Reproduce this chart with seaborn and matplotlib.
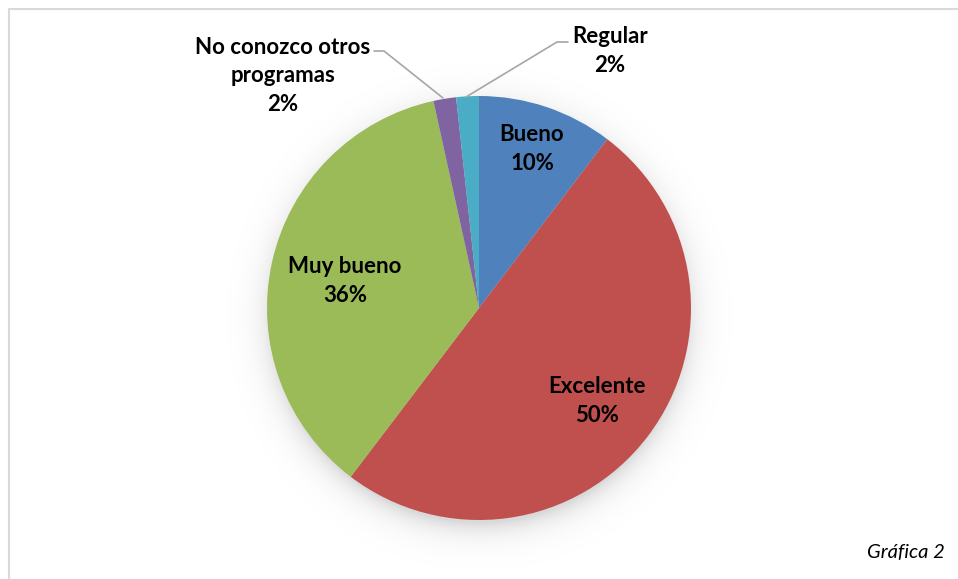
import numpy as np
import matplotlib
matplotlib.use("Agg")
import matplotlib.pyplot as plt
import seaborn as sns

# data (counts, 58 answers)
categories = ["Bueno", "Excelente", "Muy bueno", "No conozco otros\nprogramas", "Regular"]
counts = [6, 29, 21, 1, 1]
colors = ["#4F81BD", "#C0504D", "#9BBB59", "#8064A2", "#4BACC6"]
caption = "Gráfica 2"

sns.set_theme(style="white")
plt.rcParams["font.family"] = ["Lato", "DejaVu Sans"]

W, H = 958, 579
fig = plt.figure(figsize=(W / 100, H / 100), dpi=100)
ax = fig.add_axes([0, 0, 1, 1])

cx, cy, r = 479, H - 308, 212

# frame of the chart area
ax.plot([9, 9, W + 5], [-5, H - 9, H - 9], color="#D9D9D9", lw=1.5, zorder=0)

# soft shadow under the pie, shifted a little downwards
yy, xx = np.mgrid[0:H, 0:W]
d = np.hypot(xx - cx, (H - yy) - (cy - 8))
shadow = 0.15 * np.exp(-np.clip(d - r + 6, 0, None) / 13)
rgba = np.zeros((H, W, 4))
rgba[..., 3] = shadow
ax.imshow(rgba, extent=[0, W, 0, H], origin="upper", zorder=1)

wedges, _ = ax.pie(counts, colors=colors, startangle=90, counterclock=False,
                   radius=r, center=(cx, cy), frame=True,
                   wedgeprops=dict(linewidth=0))
for w in wedges:
    w.set_zorder(2)
ax.set_xlim(0, W)
ax.set_ylim(0, H)
ax.set_aspect("equal")
ax.axis("off")

total = sum(counts)
pct = [f"{round(100 * c / total)}%" for c in counts]

font = dict(fontsize=16, fontweight="bold", color="black", ha="center", va="center",
            linespacing=1.45, zorder=5)

# labels inside the big slices
inside = {0: (532, 149), 1: (597, 401), 2: (345, 281)}
for i, (x, y) in inside.items():
    ax.text(x, H - y, f"{categories[i]}\n{pct[i]}", **font)

# outside labels with leader lines
ax.text(283, H - 76, f"{categories[3]}\n{pct[3]}", **font)
ax.plot([374, 384, 443], [H - 51, H - 51, H - 98], color="#A6A6A6", lw=1.2, zorder=4)

ax.text(610, H - 51, f"{categories[4]}\n{pct[4]}", **font)
ax.plot([568, 557, 466], [H - 42, H - 42, H - 97], color="#A6A6A6", lw=1.2, zorder=4)

ax.text(945, H - 552, caption, fontsize=14.5, style="italic", ha="right", va="center",
        color="black", zorder=5)

fig.savefig("out.png", dpi=100)
